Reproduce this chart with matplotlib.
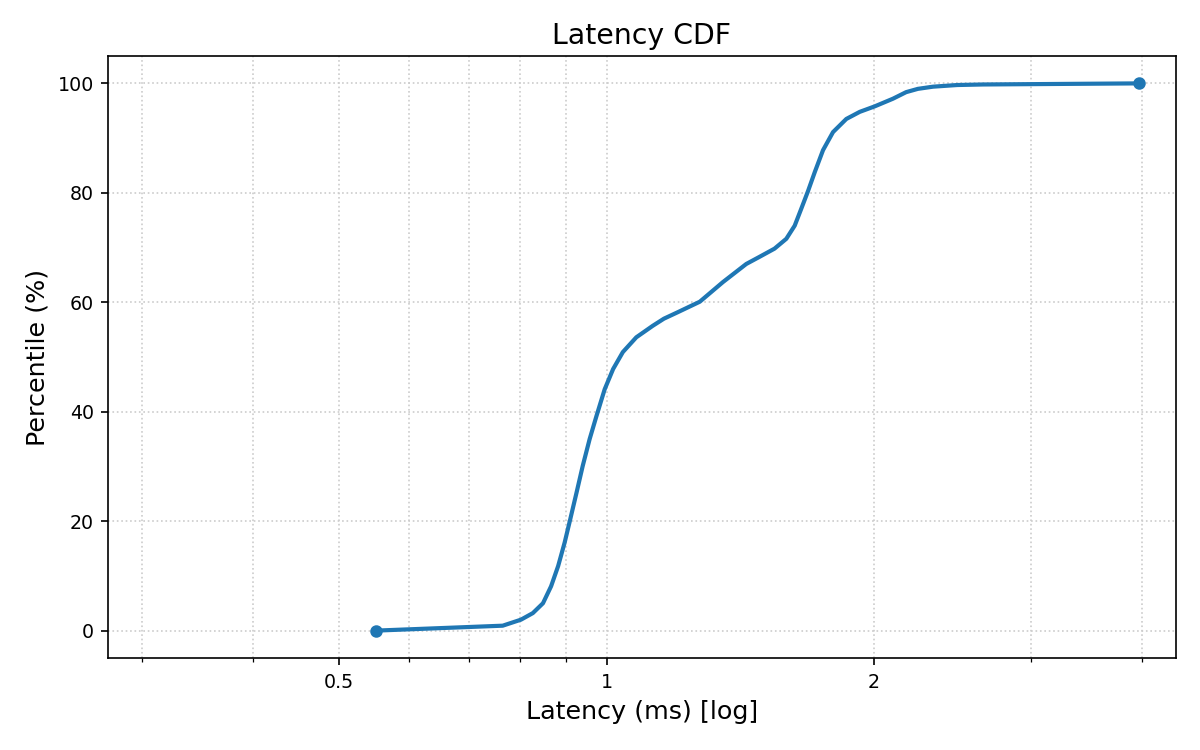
import matplotlib
matplotlib.use("Agg")
import matplotlib.pyplot as plt
from matplotlib.ticker import FixedLocator, FuncFormatter, LogLocator, NullFormatter

# Percentile levels (%) and latency values (ms)
percentiles = [0, 0.9, 2.0, 3.2, 5.0, 8.1, 11.8, 16.1, 20.0, 25.2, 30.1, 35.0,
               39.2, 44.1, 47.8, 50.9, 53.6, 55.7, 57.0, 58.2, 60.1, 63.7, 67.0,
               68.3, 69.8, 71.6, 74.0, 77.1, 80.3, 83.8, 87.8, 91.1, 93.5, 94.8,
               95.8, 97.2, 98.4, 99.0, 99.4, 99.7, 99.8, 100]
latency_ms = [0.550, 0.764, 0.801, 0.826, 0.848, 0.866, 0.882, 0.897, 0.909,
              0.925, 0.940, 0.957, 0.974, 0.995, 1.017, 1.043, 1.080, 1.127,
              1.160, 1.203, 1.273, 1.352, 1.436, 1.486, 1.545, 1.593, 1.628,
              1.656, 1.685, 1.715, 1.752, 1.798, 1.861, 1.927, 2.003, 2.100,
              2.173, 2.240, 2.330, 2.480, 2.650, 3.970]
x_ticks = [0.5, 1, 2]
x_tick_labels = ["0.5", "1", "2"]

fig = plt.figure(figsize=(8, 5), dpi=150)
ax = fig.add_axes([0.0903, 0.1227, 0.9796 - 0.0903, 0.9253 - 0.1227])

ax.plot(latency_ms, percentiles, color="#1f77b4", linewidth=2.0,
        marker="o", markersize=5, markevery=[0, len(latency_ms) - 1],
        solid_joinstyle="round")

ax.set_xscale("log")
ax.set_xlim(min(latency_ms) * 0.5, max(latency_ms) * 1.1)
ax.xaxis.set_major_locator(FixedLocator(x_ticks))
ax.xaxis.set_major_formatter(FuncFormatter(
    lambda v, pos: x_tick_labels[x_ticks.index(v)] if v in x_ticks else ""))
ax.xaxis.set_minor_locator(LogLocator(base=10, subs=range(2, 10)))
ax.xaxis.set_minor_formatter(NullFormatter())

ax.grid(True, which="both", linestyle=":", color="#cccccc", linewidth=0.8)
ax.tick_params(axis="both", which="major", labelsize=9.1)

ax.set_title("Latency CDF", fontsize=13.6)
ax.set_xlabel("Latency (ms) [log]", fontsize=12.2)
ax.set_ylabel("Percentile (%)", fontsize=12.2)

fig.savefig("out.png", dpi=150)
